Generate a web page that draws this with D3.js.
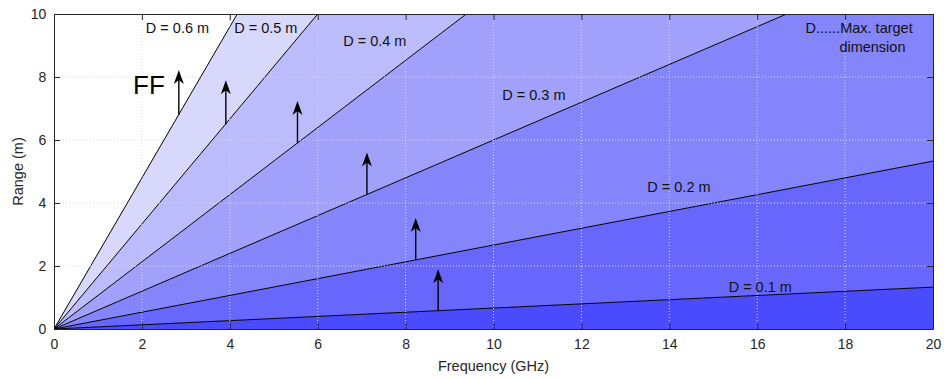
<!DOCTYPE html>
<html>
<head>
<meta charset="utf-8">
<script src="https://cdn.jsdelivr.net/npm/d3@7"></script>
<style>
  html, body { margin: 0; padding: 0; background: #ffffff; }
  svg { display: block; font-family: "Liberation Sans", Arial, Helvetica, sans-serif; }
</style>
</head>
<body>
<svg id="chart" width="944" height="378"></svg>
<script>
// ---- Data ----
const diameters      = [0.1, 0.2, 0.3, 0.4, 0.5, 0.6];            // m
const lineLabels     = ["D = 0.1 m", "D = 0.2 m", "D = 0.3 m", "D = 0.4 m", "D = 0.5 m", "D = 0.6 m"];
const lineEndFreq    = [20, 20, 16.67, 9.38, 6.0, 4.17];           // GHz, where each line leaves the plot
const lineEndRange   = [1.33, 5.33, 10, 10, 10, 10];               // m
const regionColors   = ["#4b4bfe", "#6767fd", "#8484fb", "#a1a1fb", "#bcbcfc", "#d8d8fc"];

const arrowFreq      = [8.74, 8.23, 7.12, 5.54, 3.91, 2.84];       // GHz
const arrowBaseRange = [0.58, 2.2, 4.27, 5.9, 6.5, 6.8];           // m
const arrowTipRange  = [1.9, 3.52, 5.6, 7.24, 7.9, 8.22];          // m

const xTicks = [0, 2, 4, 6, 8, 10, 12, 14, 16, 18, 20];
const yTicks = [0, 2, 4, 6, 8, 10];

// label anchor positions in data units (freq, range)
const labelFreq  = [15.35, 13.5, 10.2, 6.58, 4.1, 2.09];
const labelRange = [1.18, 4.34, 7.27, 9.0, 9.4, 9.4];

const noteLines = ["D......Max. target", "dimension"];
const noteFreq  = [17.1, 17.87];
const noteRange = [9.4, 8.8];

// ---- Layout ----
const svg = d3.select("#chart");
const L = 54, R = 933, T = 14, B = 329;
const x = d3.scaleLinear().domain([0, 20]).range([L, R]);
const y = d3.scaleLinear().domain([0, 10]).range([B, T]);

svg.append("defs").append("clipPath").attr("id", "plotClip")
  .append("rect").attr("x", L).attr("y", T).attr("width", R - L).attr("height", B - T);

const plot = svg.append("g").attr("clip-path", "url(#plotClip)");
plot.append("rect").attr("x", L).attr("y", T).attr("width", R - L).attr("height", B - T).attr("fill", "#ffffff");

// slopes from end points
const slopes = diameters.map((d, i) => lineEndRange[i] / lineEndFreq[i]);
const FMAX = 200;
const regionPolys = diameters.map((d, i) => {
  const lowerSlope = i === 0 ? 0 : slopes[i - 1];
  return [[0, 0], [FMAX, lowerSlope * FMAX], [FMAX, slopes[i] * FMAX]];
});
plot.selectAll("path.region").data(regionPolys).join("path")
  .attr("class", "region")
  .attr("d", p => "M" + p.map(q => x(q[0]) + "," + y(q[1])).join("L") + "Z")
  .attr("fill", (p, i) => regionColors[i]);

// grid
const grid = svg.append("g");
grid.selectAll("line.gx").data(xTicks.filter(t => t > 0 && t < 20)).join("line")
  .attr("x1", d => x(d)).attr("x2", d => x(d)).attr("y1", T).attr("y2", B)
  .attr("stroke", "#dadada").attr("stroke-width", 1).attr("stroke-dasharray", "1,2");
grid.selectAll("line.gy").data(yTicks.filter(t => t > 0 && t < 10)).join("line")
  .attr("x1", L).attr("x2", R).attr("y1", d => y(d)).attr("y2", d => y(d))
  .attr("stroke", "#dadada").attr("stroke-width", 1).attr("stroke-dasharray", "1,2");

// lines
plot.selectAll("line.dline").data(diameters).join("line")
  .attr("x1", x(0)).attr("y1", y(0))
  .attr("x2", (d, i) => x(lineEndFreq[i])).attr("y2", (d, i) => y(lineEndRange[i]))
  .attr("stroke", "#000").attr("stroke-width", 1);

// arrows
const arrows = svg.append("g");
arrowFreq.forEach((f, i) => {
  const xp = x(f), yb = y(arrowBaseRange[i]), yt = y(arrowTipRange[i]);
  arrows.append("line").attr("x1", xp).attr("x2", xp).attr("y1", yb).attr("y2", yt + 8)
    .attr("stroke", "#000").attr("stroke-width", 1.4);
  arrows.append("path")
    .attr("d", `M${xp},${yt} L${xp + 5},${yt + 14} L${xp},${yt + 10} L${xp - 5},${yt + 14} Z`)
    .attr("fill", "#000");
});

// line labels
svg.selectAll("text.dlabel").data(lineLabels).join("text")
  .attr("class", "dlabel")
  .attr("x", (d, i) => x(labelFreq[i])).attr("y", (d, i) => y(labelRange[i]))
  .attr("font-size", 14.5).attr("fill", "#111").text(d => d);

svg.selectAll("text.note").data(noteLines).join("text")
  .attr("x", (d, i) => x(noteFreq[i])).attr("y", (d, i) => y(noteRange[i]))
  .attr("font-size", 14.5).attr("fill", "#111").text(d => d);

svg.append("text").attr("x", x(1.8)).attr("y", y(7.47))
  .attr("font-size", 26).attr("fill", "#000").text("FF");

// axes box and ticks
const axisColor = "#262626";
const axes = svg.append("g");
const ax = d3.axisBottom(x).tickValues(xTicks).tickSizeInner(-6).tickSizeOuter(0).tickPadding(12);
const gx = axes.append("g").attr("transform", `translate(0,${B})`).call(ax);
const ay = d3.axisLeft(y).tickValues(yTicks).tickSizeInner(-6).tickSizeOuter(0).tickPadding(12);
const gy = axes.append("g").attr("transform", `translate(${L},0)`).call(ay);
const axTop = d3.axisTop(x).tickValues(xTicks).tickSizeInner(-6).tickSizeOuter(0).tickFormat("");
axes.append("g").attr("transform", `translate(0,${T})`).call(axTop);
const ayRight = d3.axisRight(y).tickValues(yTicks).tickSizeInner(-6).tickSizeOuter(0).tickFormat("");
axes.append("g").attr("transform", `translate(${R},0)`).call(ayRight);
axes.selectAll(".domain").attr("stroke", axisColor);
axes.selectAll(".tick line").attr("stroke", axisColor);
axes.selectAll(".tick text").attr("fill", axisColor).attr("font-size", 14)
  .attr("font-family", "'Liberation Sans', Arial, sans-serif");
gy.selectAll(".tick text").attr("dx", "0.3em");
gx.selectAll(".tick text").attr("dy", "0.55em");

svg.append("text").attr("x", (L + R) / 2).attr("y", 371).attr("text-anchor", "middle")
  .attr("font-size", 14.5).attr("fill", axisColor).text("Frequency (GHz)");
svg.append("text").attr("transform", `translate(23,${(T + B) / 2}) rotate(-90)`)
  .attr("text-anchor", "middle").attr("font-size", 14.5).attr("fill", axisColor).text("Range (m)");
</script>
</body>
</html>
